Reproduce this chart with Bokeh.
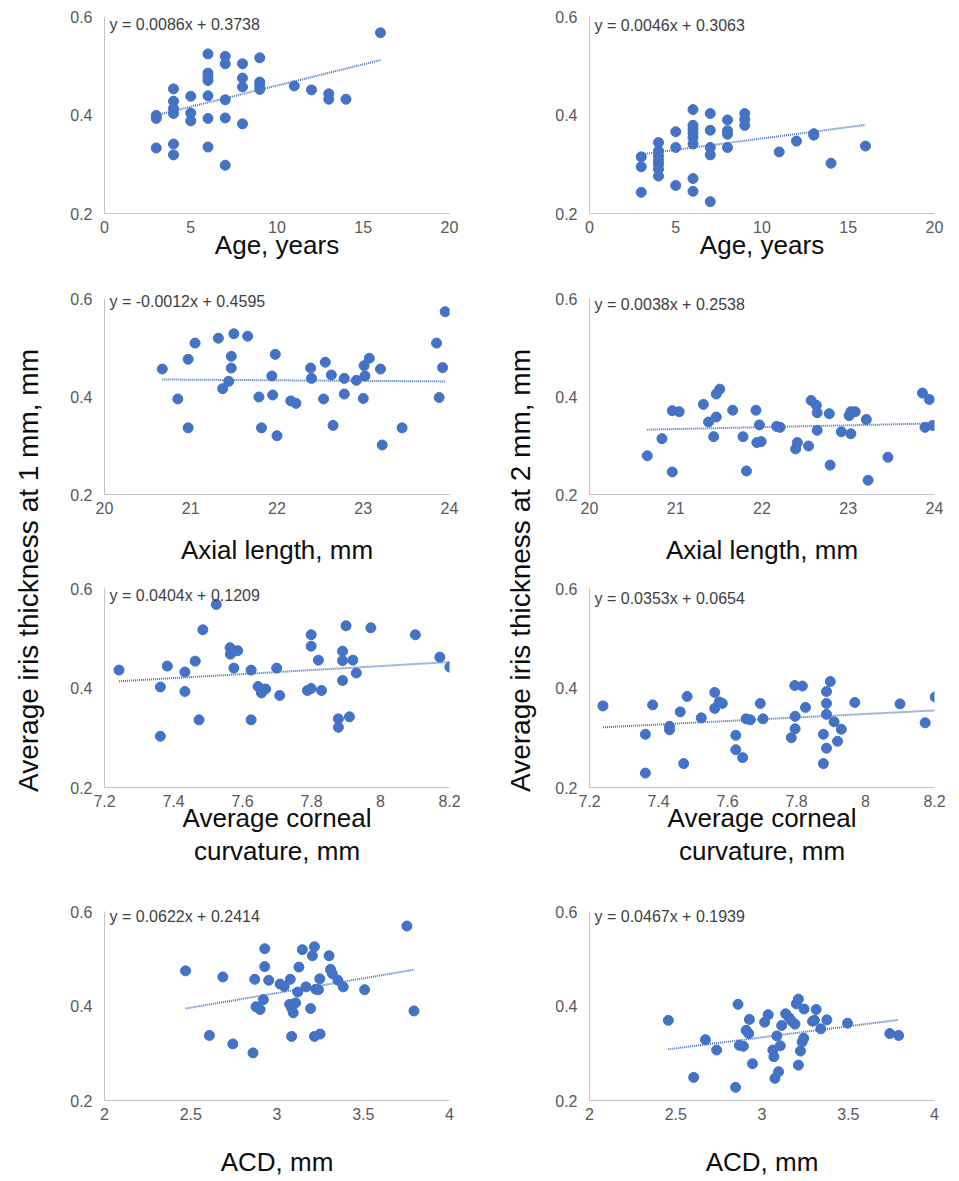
import math
from bokeh.plotting import figure
from bokeh.layouts import row, column
from bokeh.models import FixedTicker, NumeralTickFormatter, Label, Range1d
from bokeh.embed import file_html
from bokeh.resources import INLINE

# ---------------- data ----------------
age_1mm = [3, 3, 3, 4, 4, 4, 4, 4, 4, 5, 5, 5, 6, 6, 6, 6, 6, 6, 6, 7, 7, 7, 7, 7,
           8, 8, 8, 8, 9, 9, 9, 9, 11, 12, 13, 13, 14, 16]
thk1_age = [0.399, 0.393, 0.333, 0.453, 0.428, 0.413, 0.403, 0.341, 0.319, 0.438, 0.404, 0.388,
            0.524, 0.485, 0.478, 0.470, 0.439, 0.393, 0.335, 0.519, 0.504, 0.431, 0.394, 0.298,
            0.504, 0.475, 0.457, 0.382, 0.516, 0.467, 0.460, 0.452, 0.459, 0.451, 0.443, 0.432,
            0.432, 0.567]

age_2mm = [3, 3, 3, 4, 4, 4, 4, 4, 4, 4, 5, 5, 5, 6, 6, 6, 6, 6, 6, 6, 6, 7, 7, 7, 7, 7,
           8, 8, 8, 8, 9, 9, 9, 11, 12, 13, 13, 14, 16]
thk2_age = [0.315, 0.295, 0.243, 0.344, 0.327, 0.317, 0.308, 0.300, 0.290, 0.276, 0.366, 0.334,
            0.257, 0.411, 0.379, 0.371, 0.363, 0.354, 0.341, 0.271, 0.245, 0.403, 0.369, 0.334,
            0.319, 0.224, 0.390, 0.368, 0.361, 0.334, 0.403, 0.391, 0.379, 0.325, 0.347, 0.362,
            0.359, 0.302, 0.337]

axl_1mm = [20.67, 20.85, 20.97, 20.97, 21.05, 21.32, 21.37, 21.44, 21.47, 21.47, 21.50, 21.66,
           21.79, 21.82, 21.94, 21.95, 21.98, 22.00, 22.16, 22.22, 22.39, 22.40, 22.54, 22.56,
           22.63, 22.65, 22.78, 22.78, 22.92, 23.00, 23.01, 23.02, 23.07, 23.20, 23.22, 23.45,
           23.85, 23.88, 23.92, 23.95]
thk1_axl = [0.456, 0.395, 0.476, 0.336, 0.509, 0.519, 0.416, 0.431, 0.482, 0.458, 0.528, 0.523,
            0.399, 0.336, 0.442, 0.403, 0.486, 0.320, 0.391, 0.386, 0.458, 0.437, 0.395, 0.470,
            0.444, 0.341, 0.437, 0.405, 0.433, 0.396, 0.463, 0.442, 0.478, 0.456, 0.301, 0.336,
            0.509, 0.398, 0.459, 0.573]

axl_2mm = [20.67, 20.84, 20.96, 20.96, 21.04, 21.32, 21.38, 21.44, 21.47, 21.47, 21.51, 21.66,
           21.78, 21.82, 21.93, 21.94, 21.97, 21.99, 22.17, 22.21, 22.39, 22.41, 22.54, 22.57,
           22.63, 22.64, 22.64, 22.78, 22.79, 22.92, 23.01, 23.03, 23.03, 23.08, 23.21, 23.23,
           23.46, 23.86, 23.89, 23.94, 23.98]
thk2_axl = [0.279, 0.314, 0.371, 0.246, 0.369, 0.384, 0.348, 0.318, 0.358, 0.405, 0.415, 0.372,
            0.318, 0.248, 0.372, 0.306, 0.342, 0.308, 0.339, 0.337, 0.293, 0.306, 0.299, 0.392,
            0.382, 0.367, 0.331, 0.365, 0.260, 0.328, 0.361, 0.324, 0.369, 0.369, 0.353, 0.229,
            0.276, 0.407, 0.337, 0.394, 0.341]

cc_1mm = [7.242, 7.362, 7.362, 7.382, 7.433, 7.433, 7.463, 7.474, 7.485, 7.524, 7.564, 7.565,
          7.575, 7.586, 7.575, 7.625, 7.625, 7.645, 7.655, 7.667, 7.699, 7.708, 7.788, 7.799,
          7.799, 7.799, 7.820, 7.829, 7.878, 7.878, 7.890, 7.890, 7.890, 7.900, 7.910, 7.920,
          7.930, 7.972, 8.101, 8.172, 8.201]
thk1_cc = [0.436, 0.402, 0.303, 0.444, 0.432, 0.393, 0.454, 0.336, 0.517, 0.568, 0.481, 0.468,
           0.474, 0.475, 0.440, 0.436, 0.336, 0.403, 0.390, 0.398, 0.440, 0.385, 0.395, 0.399,
           0.484, 0.507, 0.456, 0.395, 0.338, 0.321, 0.474, 0.455, 0.415, 0.525, 0.342, 0.456,
           0.430, 0.521, 0.507, 0.462, 0.442]

cc_2mm = [7.239, 7.362, 7.362, 7.383, 7.432, 7.432, 7.463, 7.473, 7.483, 7.524, 7.563, 7.563,
          7.576, 7.585, 7.624, 7.624, 7.644, 7.654, 7.666, 7.695, 7.703, 7.785, 7.795, 7.817,
          7.796, 7.796, 7.826, 7.878, 7.878, 7.887, 7.887, 7.887, 7.887, 7.898, 7.909, 7.919,
          7.930, 7.969, 8.100, 8.173, 8.202]
thk2_cc = [0.364, 0.307, 0.229, 0.366, 0.323, 0.316, 0.352, 0.248, 0.383, 0.340, 0.391, 0.359,
           0.372, 0.369, 0.305, 0.276, 0.260, 0.338, 0.336, 0.369, 0.338, 0.300, 0.405, 0.404,
           0.343, 0.318, 0.361, 0.307, 0.248, 0.279, 0.347, 0.369, 0.393, 0.413, 0.332, 0.293,
           0.317, 0.371, 0.368, 0.330, 0.382]

acd_1mm = [2.470, 2.608, 2.686, 2.744, 2.861, 2.871, 2.878, 2.902, 2.921, 2.929, 2.929, 2.952,
           3.018, 3.042, 3.077, 3.073, 3.085, 3.094, 3.108, 3.085, 3.120, 3.127, 3.147, 3.168,
           3.195, 3.205, 3.217, 3.217, 3.224, 3.240, 3.248, 3.250, 3.302, 3.310, 3.321, 3.353,
           3.384, 3.508, 3.753, 3.794]
thk1_acd = [0.475, 0.338, 0.462, 0.320, 0.301, 0.457, 0.399, 0.393, 0.414, 0.522, 0.484, 0.455,
            0.447, 0.442, 0.457, 0.404, 0.396, 0.386, 0.407, 0.336, 0.430, 0.483, 0.520, 0.441,
            0.395, 0.507, 0.526, 0.336, 0.436, 0.435, 0.458, 0.341, 0.507, 0.478, 0.469, 0.455,
            0.441, 0.435, 0.570, 0.390]

acd_2mm = [2.457, 2.604, 2.672, 2.737, 2.847, 2.861, 2.869, 2.892, 2.908, 2.923, 2.927, 2.945,
           3.015, 3.036, 3.063, 3.069, 3.075, 3.086, 3.096, 3.106, 3.114, 3.137, 3.156, 3.170,
           3.191, 3.199, 3.211, 3.211, 3.223, 3.233, 3.242, 3.244, 3.293, 3.304, 3.314, 3.341,
           3.376, 3.496, 3.741, 3.792]
thk2_acd = [0.370, 0.249, 0.329, 0.307, 0.228, 0.404, 0.317, 0.315, 0.349, 0.342, 0.372, 0.278,
            0.366, 0.382, 0.307, 0.293, 0.247, 0.337, 0.261, 0.316, 0.359, 0.384, 0.376, 0.369,
            0.362, 0.405, 0.415, 0.275, 0.305, 0.324, 0.332, 0.394, 0.368, 0.370, 0.393, 0.352,
            0.371, 0.364, 0.342, 0.338]

# regression equations shown on the chart
equations = [
    ("y = 0.0086x + 0.3738", 0.0086, 0.3738),
    ("y = 0.0046x + 0.3063", 0.0046, 0.3063),
    ("y = -0.0012x + 0.4595", -0.0012, 0.4595),
    ("y = 0.0038x + 0.2538", 0.0038, 0.2538),
    ("y = 0.0404x + 0.1209", 0.0404, 0.1209),
    ("y = 0.0353x + 0.0654", 0.0353, 0.0654),
    ("y = 0.0622x + 0.2414", 0.0622, 0.2414),
    ("y = 0.0467x + 0.1939", 0.0467, 0.1939),
]

x_titles = ["Age, years", "Axial length, mm", "Average corneal\ncurvature, mm", "ACD, mm"]
x_limits = [(0, 20), (20, 24), (7.2, 8.2), (2, 4)]
x_tick_values = [[0, 5, 10, 15, 20], [20, 21, 22, 23, 24],
                 [7.2, 7.4, 7.6, 7.8, 8.0, 8.2], [2, 2.5, 3, 3.5, 4]]
y_ticks = [0.2, 0.4, 0.6]
y_titles = ["Average iris thickness at 1 mm, mm", "Average iris thickness at 2 mm, mm"]

series = [
    (age_1mm, thk1_age), (age_2mm, thk2_age),
    (axl_1mm, thk1_axl), (axl_2mm, thk2_axl),
    (cc_1mm, thk1_cc), (cc_2mm, thk2_cc),
    (acd_1mm, thk1_acd), (acd_2mm, thk2_acd),
]

# ---------------- styling / layout ----------------
BLUE = "#4472C4"
FONT = "Liberation Sans"
PAD = 14  # px of frame kept above the 0.6 line so the equation text is not clipped
# (border_top, frame_height(0.2..0.6), border_bottom, title_standoff) per row
ROWS = [(16, 197, 67, -6), (18, 196, 76, 18), (18, 199, 107, -7), (18, 197, 70, 24)]
EQ_DOWN = [(8, 9), (3, 6), (7, 10), (5, 5)]
COLS = [(420, 54), (411, 49)]
FRAME_W = 345
TOTAL_H = sum(r[0] + r[1] + r[2] for r in ROWS)


def make_panel(r, c):
    idx = r * 2 + c
    xs, ys = series[idx]
    eq_text, slope, icpt = equations[idx]
    bt, fh, bb, tstand = ROWS[r]
    W, bl = COLS[c]
    br = W - bl - FRAME_W
    y_top = 0.6 + PAD * 0.4 / fh
    p = figure(width=W, height=bt + fh + bb,
               min_border_left=bl, min_border_right=br,
               min_border_top=bt - PAD, min_border_bottom=bb,
               x_range=Range1d(*x_limits[r]), y_range=Range1d(0.2, y_top),
               output_backend="svg", toolbar_location=None, tools="")
    p.outline_line_color = None
    p.background_fill_color = "white"
    p.border_fill_color = "white"
    p.xgrid.visible = False
    p.ygrid.visible = False

    for ax in (p.xaxis, p.yaxis):
        ax.axis_line_color = "#c4c4c4"
        ax.axis_line_width = 1
        ax.major_tick_line_color = None
        ax.minor_tick_line_color = None
        ax.major_tick_out = 0
        ax.major_tick_in = 0
        ax.major_label_text_font = FONT
        ax.major_label_text_font_size = "16px"
        ax.major_label_text_color = "#595959"
    p.xaxis.ticker = FixedTicker(ticks=x_tick_values[r])
    p.xaxis.formatter = NumeralTickFormatter(format="0.[0]")
    p.xaxis.major_label_standoff = 7
    p.yaxis.ticker = FixedTicker(ticks=y_ticks)
    p.yaxis.formatter = NumeralTickFormatter(format="0.0")
    p.yaxis.major_label_standoff = 12
    p.yaxis.bounds = (0.2, 0.6)

    p.xaxis.axis_label = x_titles[r]
    p.xaxis.axis_label_text_font = FONT
    p.xaxis.axis_label_text_font_size = "26px"
    p.xaxis.axis_label_text_font_style = "normal"
    p.xaxis.axis_label_text_color = "#0d0d0d"
    p.xaxis.axis_label_text_line_height = 1.1
    p.xaxis.axis_label_standoff = tstand

    p.scatter(xs, ys, size=10, marker="circle", fill_color=BLUE, line_color=BLUE)

    x0, x1 = min(xs), max(xs)
    p.line([x0, x1], [slope * x0 + icpt, slope * x1 + icpt],
           line_color=BLUE, line_width=2, line_dash="1 1")

    p.add_layout(Label(x=x_limits[r][0], y=0.6, x_offset=5, y_offset=-EQ_DOWN[r][c],
                       text=eq_text, text_font=FONT, text_font_size="16px",
                       text_color="#404040", text_baseline="middle", text_align="left"))
    return p


def label_fig(width, cx, text):
    p = figure(width=width, height=TOTAL_H, x_range=Range1d(0, width),
               y_range=Range1d(0, TOTAL_H), x_axis_location=None, y_axis_location=None,
               min_border=0, output_backend="svg", toolbar_location=None, tools="")
    p.outline_line_color = None
    p.xgrid.visible = False
    p.ygrid.visible = False
    p.add_layout(Label(x=cx, y=TOTAL_H - 570, text=text, angle=math.pi / 2,
                       text_font=FONT, text_font_size="28px", text_color="#0d0d0d",
                       text_align="center", text_baseline="middle"))
    return p


left_col = column(*[make_panel(r, 0) for r in range(4)])
right_col = column(*[make_panel(r, 1) for r in range(4)])
layout = row(label_fig(50, 28, y_titles[0]), left_col,
             label_fig(70, 50, y_titles[1]), right_col)

open("out.html", "w").write(file_html(layout, INLINE, "Iris thickness"))
